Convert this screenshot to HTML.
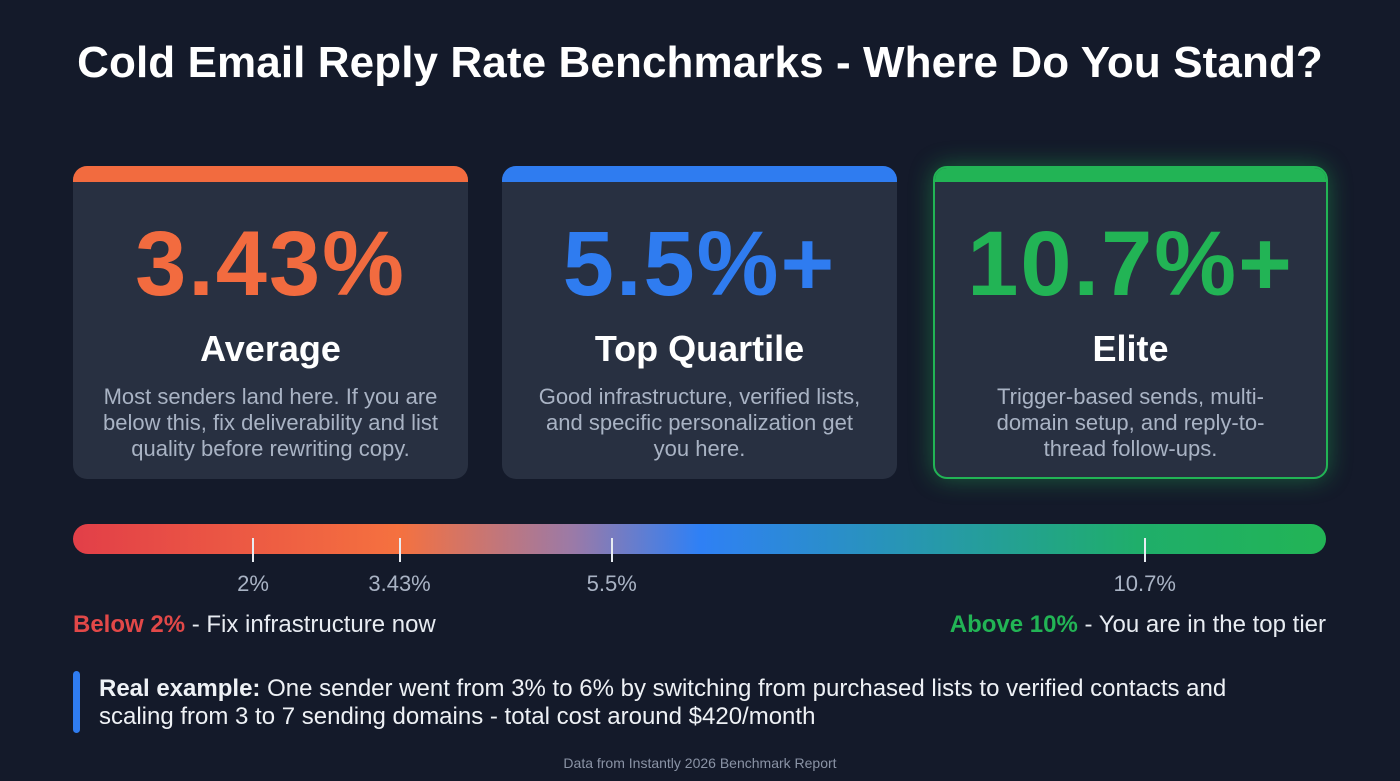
<!DOCTYPE html>
<html><head><meta charset="utf-8">
<style>
body{margin:0;width:1400px;height:781px;background:#141a2a;font-family:"Liberation Sans",sans-serif;position:relative;overflow:hidden;color:#fff}
.abs{position:absolute}
.title{left:0;width:1400px;top:38px;text-align:center;font-size:44px;font-weight:bold;letter-spacing:0.1px}
.card{top:166px;width:395px;height:313px;background:#283041;border-radius:14px;overflow:hidden;box-sizing:border-box;text-align:center}
.card .bar{height:16px}
.big{font-size:92px;font-weight:bold;margin-top:30px;line-height:104px;letter-spacing:2px}
.sub{font-size:36px;font-weight:bold;margin-top:12px;line-height:42px}
.desc{font-size:22px;color:#a9b3c4;line-height:26px;margin:14px 0 0;white-space:nowrap}
.tick{width:2px;height:24px;background:#e8ecf2;top:538px}
.tl{top:571px;font-size:22px;color:#a9b3c4;width:120px;margin-left:-60px;text-align:center}
</style></head><body>
<div class="abs title">Cold Email Reply Rate Benchmarks - Where Do You Stand?</div>

<div class="abs card" style="left:73px">
<div class="bar" style="background:#f26b3f"></div>
<div class="big" style="color:#f26b3f">3.43%</div>
<div class="sub">Average</div>
<div class="desc">Most senders land here. If you are<br>below this, fix deliverability and list<br>quality before rewriting copy.</div>
</div>
<div class="abs card" style="left:502px">
<div class="bar" style="background:#2f7cf0"></div>
<div class="big" style="color:#2f7cf0">5.5%+</div>
<div class="sub">Top Quartile</div>
<div class="desc">Good infrastructure, verified lists,<br>and specific personalization get<br>you here.</div>
</div>
<div class="abs card" style="left:933px;border:2px solid #22b455;box-shadow:0 0 24px rgba(34,180,85,0.45)">
<div class="bar" style="background:#22b455;height:14px"></div>
<div class="big" style="color:#22b455">10.7%+</div>
<div class="sub">Elite</div>
<div class="desc">Trigger-based sends, multi-<br>domain setup, and reply-to-<br>thread follow-ups.</div>
</div>

<div class="abs" style="left:73px;top:524px;width:1253px;height:30px;border-radius:15px;background:linear-gradient(90deg,#e23f48 0%,#f5713f 26%,#9a7aa8 40%,#2f80f5 50%,#1fae6a 85%,#22b455 100%)"></div>
<div id="ticks"></div>

<div class="abs" style="left:73px;top:611px;font-size:24px;color:#e8ecf2"><b style="color:#e24848">Below 2%</b> - Fix infrastructure now</div>
<div class="abs" style="right:74px;top:611px;font-size:24px;color:#e8ecf2"><b style="color:#22b455">Above 10%</b> - You are in the top tier</div>

<div class="abs" style="left:73px;top:671px;width:7px;height:62px;border-radius:4px;background:#2f7cf0"></div>
<div class="abs" style="left:99px;top:675px;font-size:24px;line-height:28px;color:#eef1f5;white-space:nowrap"><b>Real example:</b> One sender went from 3% to 6% by switching from purchased lists to verified contacts and<br>scaling from 3 to 7 sending domains - total cost around $420/month</div>
<div class="abs" style="left:0;width:1400px;top:755px;text-align:center;font-size:14px;color:#8a93a5">Data from Instantly 2026 Benchmark Report</div>

<script>
const tickValues=[2,3.43,5.5,10.7];
const tickLabels=["2%","3.43%","5.5%","10.7%"];
function xScale(v){return 48+102.5*v;}
const c=document.getElementById('ticks');
tickValues.forEach((v,i)=>{
 const t=document.createElement('div');t.className='abs tick';t.style.left=(xScale(v)-1)+'px';
 
 
 c.appendChild(t);
 const l=document.createElement('div');l.className='abs tl';l.style.left=xScale(v)+'px';l.textContent=tickLabels[i];
 
 
 c.appendChild(l);
});
</script>
</body></html>
